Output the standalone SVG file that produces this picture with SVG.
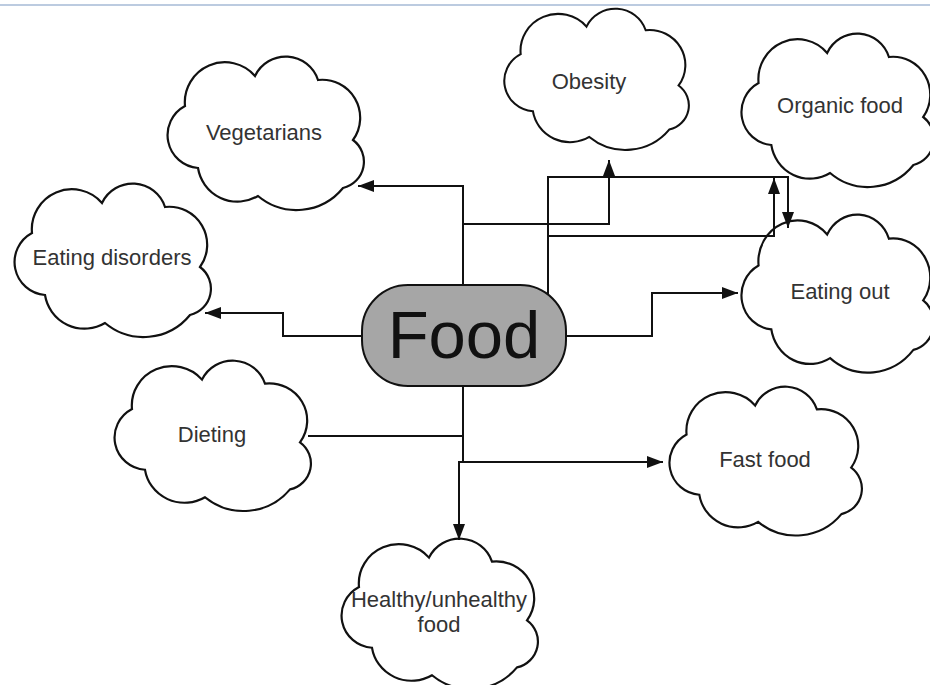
<svg xmlns="http://www.w3.org/2000/svg" xmlns:xlink="http://www.w3.org/1999/xlink" width="930" height="685" viewBox="0 0 930 685">
<style>
.cloud{fill:#fff;stroke:#111;stroke-width:2.2;vector-effect:non-scaling-stroke}
.lbl{font-family:"Liberation Sans",Arial,sans-serif;font-size:22px;fill:#333;text-anchor:middle}
.con{fill:none;stroke:#111;stroke-width:2}
</style>
<defs>
<path id="cloudShape" d="M22,48 A40,40 0 0 1 92,18 A34,34 0 0 1 155,22 A38,38 0 0 1 190,82 A27,27 0 0 1 180,130 A60,60 0 0 1 95,138 A40,40 0 0 1 35,110 A33,33 0 0 1 22,48 Z"/>
<marker id="arr" viewBox="0 0 16 12" refX="16" refY="6" markerWidth="16" markerHeight="12" markerUnits="userSpaceOnUse" orient="auto">
<path d="M0,0 L16,6 L0,12 Z" fill="#111"/>
</marker>
</defs>
<rect width="930" height="685" fill="#fff"/>
<line x1="0" y1="5" x2="930" y2="5" stroke="#bccbe0" stroke-width="2"/>

<g id="vegetarians"><use xlink:href="#cloudShape" class="cloud" transform="translate(163,58)"/><text class="lbl" x="264" y="140">Vegetarians</text></g>
<g id="obesity"><use xlink:href="#cloudShape" class="cloud" transform="translate(500,10) scale(0.94,0.92)"/><text class="lbl" x="589" y="89">Obesity</text></g>
<g id="organic-food"><use xlink:href="#cloudShape" class="cloud" transform="translate(737,35) scale(0.98,1)"/><text class="lbl" x="840" y="113">Organic food</text></g>
<g id="eating-disorders"><use xlink:href="#cloudShape" class="cloud" transform="translate(10,185)"/><text class="lbl" x="112" y="265">Eating disorders</text></g>
<g id="eating-out"><use xlink:href="#cloudShape" class="cloud" transform="translate(737,216) scale(0.98,1.03)"/><text class="lbl" x="840" y="299">Eating out</text></g>
<g id="dieting"><use xlink:href="#cloudShape" class="cloud" transform="translate(110,362) scale(1,0.98)"/><text class="lbl" x="212" y="442">Dieting</text></g>
<g id="fast-food"><use xlink:href="#cloudShape" class="cloud" transform="translate(665,388) scale(0.98,0.97)"/><text class="lbl" x="765" y="467">Fast food</text></g>
<g id="healthy-food"><use xlink:href="#cloudShape" class="cloud" transform="translate(337,540) scale(1,0.98)"/><text class="lbl" x="439" y="607">Healthy/unhealthy</text><text class="lbl" x="439" y="632">food</text></g>

<g id="connectors">
<path class="con" d="M463,300 V186 H358" marker-end="url(#arr)"/>
<path class="con" d="M463,224 H609 V160" marker-end="url(#arr)"/>
<path class="con" d="M548,300 V177 H788 V228" marker-end="url(#arr)"/>
<path class="con" d="M548,236 H774 V178" marker-end="url(#arr)"/>
<path class="con" d="M560,336 H652 V293 H738" marker-end="url(#arr)"/>
<path class="con" d="M370,336 H283 V313 H205" marker-end="url(#arr)"/>
<path class="con" d="M463,380 V436 H308"/>
<path class="con" d="M463,436 V462 H663" marker-end="url(#arr)"/>
<path class="con" d="M463,462 H459 V540" marker-end="url(#arr)"/>
</g>

<g id="food">
<rect x="362" y="285" width="204" height="101" rx="46" ry="46" fill="#a6a6a6" stroke="#111" stroke-width="2"/>
<text x="464" y="358" font-family="'Liberation Sans',Arial,sans-serif" font-size="67" fill="#111" text-anchor="middle">Food</text>
</g>
</svg>
